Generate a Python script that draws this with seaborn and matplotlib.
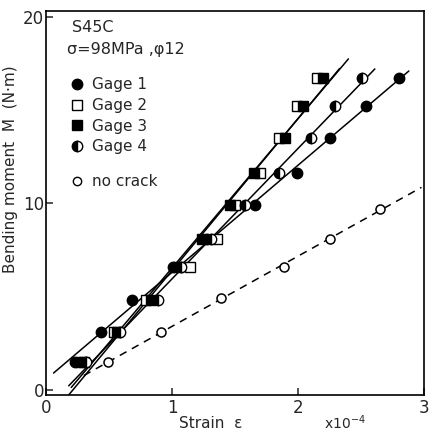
import numpy as np
import matplotlib
matplotlib.use("Agg")
import matplotlib.pyplot as plt
from matplotlib.lines import Line2D
import seaborn as sns

# bending moment levels (N*m)
moment = [1.5, 3.1, 4.8, 6.6, 8.1, 9.9, 11.6, 13.5, 15.2, 16.7]
# strain (x10^-4) of each gage at those moments
gage1 = [0.23, 0.44, 0.68, 1.01, 1.28, 1.66, 1.99, 2.25, 2.54, 2.80]
gage2 = [0.30, 0.54, 0.79, 1.14, 1.36, 1.50, 1.70, 1.85, 1.99, 2.15]
gage3 = [0.28, 0.56, 0.83, 1.05, 1.24, 1.46, 1.65, 1.90, 2.04, 2.20]
gage4 = [0.32, 0.59, 0.89, 1.07, 1.31, 1.58, 1.85, 2.10, 2.29, 2.51]
nocrack_moment = [1.5, 3.1, 4.9, 6.6, 8.1, 9.7]
nocrack_strain = [0.49, 0.91, 1.39, 1.89, 2.25, 2.65]
# strain span of each fitted line (gage 1..4, no crack)
fit_start = [0.06, 0.14, 0.20, 0.18, 0.30]
fit_end = [2.88, 2.33, 2.40, 2.61, 2.98]

labels = ["Gage 1", "Gage 2", "Gage 3", "Gage 4"]

sns.set_style("white")
plt.rcParams["font.family"] = ["DejaVu Sans"]

fig = plt.figure(figsize=(4.3, 4.4), dpi=100)
ax = fig.add_axes([46 / 430, 45 / 440, 378 / 430, 384 / 440])

# marker styles for gage 1..4
styles = [
    dict(marker="o", markerfacecolor="black", markersize=7.5),
    dict(marker="s", markerfacecolor="white", markersize=7.5),
    dict(marker="s", markerfacecolor="black", markersize=7.5),
    dict(marker="o", markerfacecolor="black", fillstyle="left",
         markerfacecoloralt="white", markersize=7.5),
]

series = [gage1, gage2, gage3, gage4]
for i, strain in enumerate(series):
    k, b = np.polyfit(strain, moment, 1)
    xs = np.array([fit_start[i], fit_end[i]])
    sns.lineplot(x=xs, y=k * xs + b, color="black", linewidth=1.1,
                 estimator=None, sort=False, legend=False, ax=ax, zorder=2)

k, b = np.polyfit(nocrack_strain, nocrack_moment, 1)
xs = np.array([fit_start[4], fit_end[4]])
sns.lineplot(x=xs, y=k * xs + b, color="black", linewidth=1.1,
             estimator=None, sort=False, legend=False, ax=ax, zorder=2)
ax.lines[-1].set_linestyle((0, (5, 4)))

for strain, st in zip(series, styles):
    sns.lineplot(x=strain, y=moment, color="black", linestyle="",
                 markeredgecolor="black", markeredgewidth=1.0,
                 estimator=None, sort=False, legend=False, ax=ax, zorder=3, **st)

sns.lineplot(x=nocrack_strain, y=nocrack_moment, color="black", linestyle="",
             marker="o", markerfacecolor="white", markeredgecolor="black",
             markeredgewidth=1.1, markersize=6.5,
             estimator=None, sort=False, legend=False, ax=ax, zorder=3)

ax.set_xlim(0, 3)
ax.set_ylim(-0.27, 20.3)
ax.set_xticks([0, 1, 2, 3])
ax.set_yticks([0, 10, 20])
ax.tick_params(direction="in", length=5, width=1.1, labelsize=12, pad=3,
               bottom=True, left=True)
ax.tick_params(axis="y", pad=1.5)
for sp in ax.spines.values():
    sp.set_linewidth(1.2)
    sp.set_color("black")

ax.set_xlabel("Strain  ε", fontsize=11)
ax.xaxis.set_label_coords(0.436, -0.055)
ax.set_ylabel("Bending moment  M  (N·m)", fontsize=11)
ax.yaxis.set_label_coords(-0.075, 0.589)
ax.text(0.79, -0.073, "x10$^{-4}$", transform=ax.transAxes, fontsize=10,
        ha="center", va="center")

ax.text(0.068, 0.958, "S45C", transform=ax.transAxes, fontsize=11.5, va="center")
ax.text(0.055, 0.901, "σ=98MPa ,φ12", transform=ax.transAxes, fontsize=11.5,
        va="center")

handles = [Line2D([], [], linestyle="", color="black", markeredgecolor="black",
                  **st) for st in styles]
leg = ax.legend(handles, labels, loc="upper left", bbox_to_anchor=(0.062, 0.828),
                frameon=False, fontsize=11, handlelength=1.0, handletextpad=0.5,
                labelspacing=0.38, borderpad=0, borderaxespad=0)
ax.add_artist(leg)
nc = Line2D([], [], linestyle="", marker="o", color="black", markerfacecolor="white",
            markeredgecolor="black", markersize=6)
ax.legend([nc], ["no crack"], loc="upper left", bbox_to_anchor=(0.062, 0.575),
          frameon=False, fontsize=11, handlelength=1.0, handletextpad=0.5,
          borderpad=0, borderaxespad=0)

fig.savefig("out.png", dpi=100)
